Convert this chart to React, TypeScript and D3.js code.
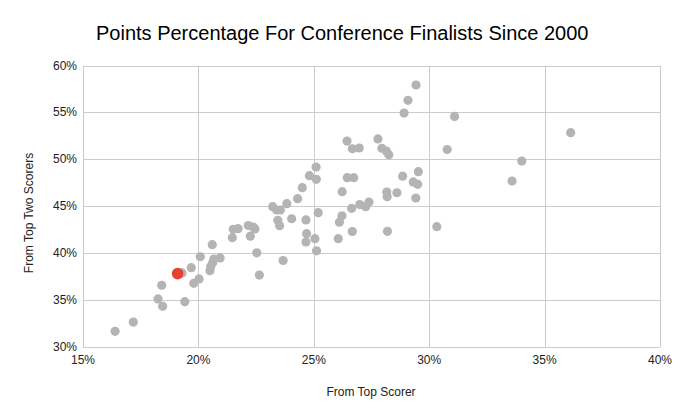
import * as d3 from 'd3';
import { useRef, useEffect } from 'react';

// share of team points, [from top scorer, from top two scorers]
const fromTopScorer = [
  0.1639, 0.1718, 0.1825, 0.1845, 0.1841, 0.1941, 0.1929, 0.1969, 0.1980, 0.2003,
  0.2008, 0.2060, 0.2067, 0.2094, 0.2062, 0.2053, 0.2050, 0.2147, 0.2151, 0.2172,
  0.2216, 0.2238, 0.2245, 0.2225, 0.2253, 0.2264, 0.2367, 0.2322, 0.2339, 0.2355,
  0.2344, 0.2352, 0.2383, 0.2404, 0.2430, 0.2450, 0.2481, 0.2510, 0.2511, 0.2519,
  0.2466, 0.2469, 0.2466, 0.2505, 0.2512, 0.2606, 0.2611, 0.2622, 0.2623, 0.2645,
  0.2673, 0.2664, 0.2667, 0.2699, 0.2725, 0.2739, 0.2816, 0.2818, 0.2860, 0.2819,
  0.2885, 0.2931, 0.2950, 0.2953, 0.2942, 0.3033, 0.2644, 0.2667, 0.2697, 0.2778,
  0.2795, 0.2814, 0.2825, 0.2891, 0.2908, 0.2943, 0.3078, 0.3110, 0.3359, 0.3401,
  0.3613,
];
const fromTopTwo = [
  0.3167, 0.3266, 0.3512, 0.3434, 0.3658, 0.3483, 0.3789, 0.3845, 0.3679, 0.3725,
  0.3962, 0.4091, 0.3938, 0.3949, 0.3898, 0.3856, 0.3813, 0.4165, 0.4254, 0.4261,
  0.4295, 0.4279, 0.4258, 0.4181, 0.4004, 0.3767, 0.3922, 0.4495, 0.4460, 0.4460,
  0.4350, 0.4293, 0.4527, 0.4367, 0.4581, 0.4698, 0.4826, 0.4918, 0.4787, 0.4431,
  0.4354, 0.4208, 0.4119, 0.4154, 0.4025, 0.4154, 0.4330, 0.4399, 0.4655, 0.4804,
  0.4804, 0.4478, 0.4231, 0.4518, 0.4495, 0.4545, 0.4652, 0.4602, 0.4644, 0.4233,
  0.4820, 0.4759, 0.4734, 0.4868, 0.4588, 0.4282, 0.5195, 0.5113, 0.5121, 0.5217,
  0.5118, 0.5089, 0.5049, 0.5494, 0.5629, 0.5792, 0.5105, 0.5457, 0.4769, 0.4982,
  0.5284,
];
// the highlighted team
const highlight = [0.1910, 0.3782];

const xTicks = [0.15, 0.2, 0.25, 0.3, 0.35, 0.4];
const yTicks = [0.3, 0.35, 0.4, 0.45, 0.5, 0.55, 0.6];

const width = 680;
const height = 420;
const font = 'Arial, "Liberation Sans", sans-serif';

const App = () => {
  const ref = useRef<SVGSVGElement>(null);

  useEffect(() => {
    if (!ref.current) return;
    const svg = d3.select(ref.current);
    svg.selectAll('*').remove();

    const x = d3.scaleLinear().domain([0.15, 0.4]).range([83, 660]);
    const y = d3.scaleLinear().domain([0.3, 0.6]).range([347, 65.5]);
    const pct = d3.format('.0%');

    svg.append('rect').attr('width', width).attr('height', height).attr('fill', '#fff');

    svg.append('text')
      .attr('x', 96).attr('y', 40)
      .attr('font-family', font).attr('font-size', 20).attr('fill', '#000')
      .text('Points Percentage For Conference Finalists Since 2000');

    const grid = svg.append('g').attr('stroke', '#cccccc').attr('stroke-width', 1);
    grid.selectAll('.v').data(xTicks).enter().append('line')
      .attr('x1', d => Math.round(x(d)) + 0.5).attr('x2', d => Math.round(x(d)) + 0.5)
      .attr('y1', y(0.6)).attr('y2', y(0.3));
    grid.selectAll('.h').data(yTicks).enter().append('line')
      .attr('y1', d => Math.round(y(d)) + 0.5).attr('y2', d => Math.round(y(d)) + 0.5)
      .attr('x1', x(0.15)).attr('x2', x(0.4));

    svg.append('g').selectAll('text').data(xTicks).enter().append('text')
      .attr('x', d => x(d)).attr('y', 364)
      .attr('text-anchor', 'middle')
      .attr('font-family', font).attr('font-size', 12).attr('fill', '#222')
      .text(d => pct(d));

    svg.append('g').selectAll('text').data(yTicks).enter().append('text')
      .attr('x', 77).attr('y', d => y(d) + 4)
      .attr('text-anchor', 'end')
      .attr('font-family', font).attr('font-size', 12).attr('fill', '#222')
      .text(d => pct(d));

    svg.append('text')
      .attr('x', 371).attr('y', 396)
      .attr('text-anchor', 'middle')
      .attr('font-family', font).attr('font-size', 12).attr('fill', '#222')
      .text('From Top Scorer');

    svg.append('text')
      .attr('transform', 'translate(33,213) rotate(-90)')
      .attr('text-anchor', 'middle')
      .attr('font-family', font).attr('font-size', 12).attr('fill', '#222')
      .text('From Top Two Scorers');

    svg.append('g').selectAll('circle').data(d3.range(fromTopScorer.length)).enter().append('circle')
      .attr('cx', i => x(fromTopScorer[i]))
      .attr('cy', i => y(fromTopTwo[i]))
      .attr('r', 4.6)
      .attr('fill', '#b4b4b4');

    svg.append('circle')
      .attr('cx', x(highlight[0])).attr('cy', y(highlight[1]))
      .attr('r', 5.8)
      .attr('fill', '#e8412f');
  }, []);

  return (
    <svg ref={ref} width={width} height={height}
      style={{ position: 'absolute', left: 0, top: 0 }} />
  );
};

export default App;
